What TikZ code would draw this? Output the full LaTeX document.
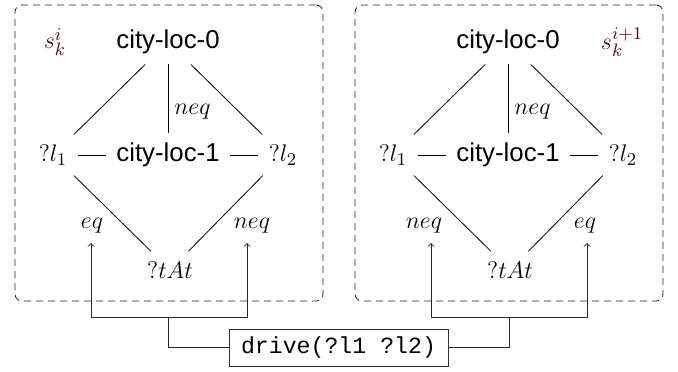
\documentclass[tikz,border=0pt]{standalone}
\usepackage{fontspec}
\newfontfamily\sansf{Liberation Sans}
\newfontfamily\monof{Liberation Mono}
\definecolor{boxcol}{RGB}{70,15,15}
\begin{document}
\begin{tikzpicture}[x=0.5pt,y=-0.5pt,
  every node/.style={font=\fontsize{12.9}{15}\selectfont},
  word/.style={inner sep=5pt, font=\fontsize{12.9}{15}\selectfont\sansf},
  var/.style={inner sep=5pt},
  lab/.style={inner sep=3pt},
  slab/.style={text=boxcol, inner sep=2pt},
  frame/.style={draw=boxcol, dash pattern=on 3.5pt off 2.5pt, rounded corners=3.5pt,
                minimum width=154pt, minimum height=148pt, inner sep=0pt},
  action/.style={draw=black!80, font=\fontsize{11.6}{14}\selectfont\monof,
                 minimum width=109.5pt, minimum height=18.5pt, inner sep=0pt},
  wire/.style={->, black!85},
  edge/.style={black}]
\useasboundingbox (0,0) rectangle (678,371);

% frames
\node[frame] (boxL) at (169,153) {};
\node[frame] (boxR) at (509,153) {};
\node[slab] (sL) at (55,42) {$s_k^{i}$};
\node[slab] (sR) at (622,42) {$s_k^{i+1}$};

% left graph
\node[word] (Lc0) at (168,42) {city-loc-0};
\node[var]  (Ll1) at (53,155) {$?l_1$};
\node[word] (Lc1) at (168,155) {city-loc-1};
\node[var]  (Ll2) at (283,155) {$?l_2$};
\node[var]  (Lt)  at (170,270) {$?tAt$};
\draw[edge] (Lc0) -- (Ll1);
\draw[edge] (Lc0) -- (Ll2);
\draw[edge] (Lc0) -- node[lab, pos=0.7, right] (Lnq) {$neq$} (Lc1);
\draw[edge] (Ll1) -- (Lc1);
\draw[edge] (Lc1) -- (Ll2);
\draw[edge] (Ll1) -- (Lt);
\draw[edge] (Ll2) -- (Lt);
\node[lab] (Lea) at (92,226) {$eq$};
\node[lab] (Leb) at (252,226) {$neq$};

% right graph
\node[word] (Rc0) at (508,42) {city-loc-0};
\node[var]  (Rl1) at (393,155) {$?l_1$};
\node[word] (Rc1) at (508,155) {city-loc-1};
\node[var]  (Rl2) at (623,155) {$?l_2$};
\node[var]  (Rt)  at (510,270) {$?tAt$};
\draw[edge] (Rc0) -- (Rl1);
\draw[edge] (Rc0) -- (Rl2);
\draw[edge] (Rc0) -- node[lab, pos=0.7, right] (Rnq) {$neq$} (Rc1);
\draw[edge] (Rl1) -- (Rc1);
\draw[edge] (Rc1) -- (Rl2);
\draw[edge] (Rl1) -- (Rt);
\draw[edge] (Rl2) -- (Rt);
\node[lab] (Rea) at (424,226) {$neq$};
\node[lab] (Reb) at (585,226) {$eq$};

% action and wiring
\node[action] (drive) at (338.5,347.5) {drive(?l1 ?l2)};
\coordinate (jL) at (168,317);
\coordinate (jR) at (509,317);
\coordinate (tA) at (91,243);
\coordinate (tB) at (247,243);
\coordinate (tC) at (431,243);
\coordinate (tD) at (587,243);
\draw[wire] (drive.west) -| (jL) -| (tA);
\draw[wire] (jL) -| (tB);
\draw[wire] (drive.east) -| (jR) -| (tC);
\draw[wire] (jR) -| (tD);
\end{tikzpicture}
\end{document}
